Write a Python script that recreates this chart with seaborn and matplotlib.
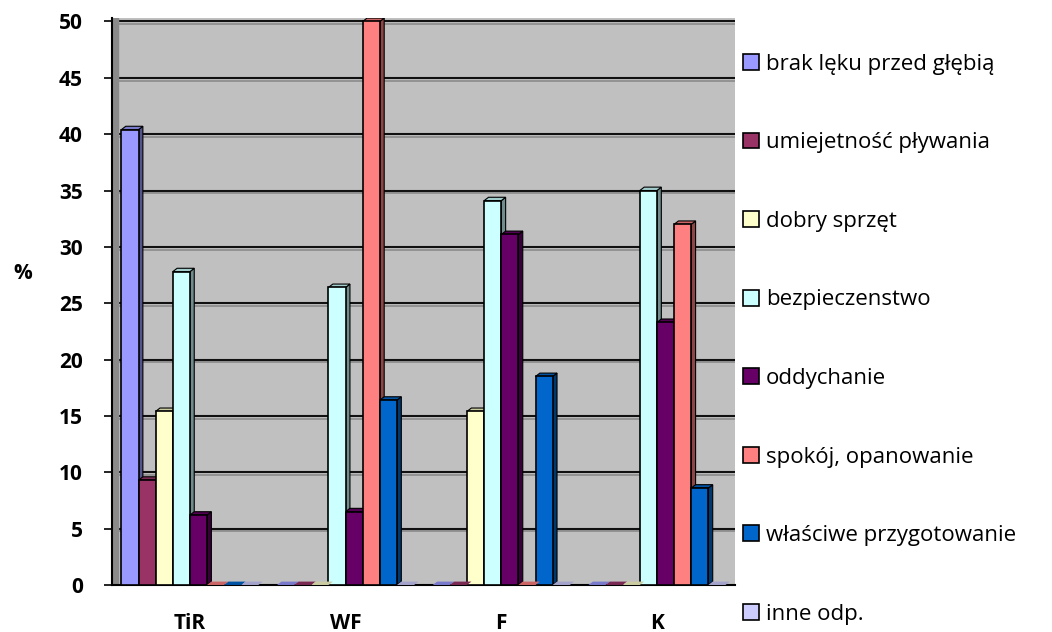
import numpy as np
import pandas as pd
import seaborn as sns
import matplotlib.pyplot as plt
from matplotlib.patches import Polygon
from matplotlib.colors import to_rgb

groups = ["TiR", "WF", "F", "K"]
series = ["brak lęku przed głębią", "umiejetność pływania", "dobry sprzęt",
          "bezpieczenstwo", "oddychanie", "spokój, opanowanie",
          "właściwe przygotowanie", "inne odp."]
colors = ["#9999FF", "#993366", "#FFFFCC", "#CCFFFF",
          "#660066", "#FF8080", "#0066CC", "#CCCCFF"]

brak_leku = [40.4, 0, 0, 0]
umiejetnosc = [9.3, 0, 0, 0]
dobry_sprzet = [15.4, 0, 15.4, 0]
bezpieczenstwo = [27.8, 26.4, 34.1, 35.0]
oddychanie = [6.2, 6.5, 31.1, 23.3]
spokoj = [0, 50.0, 0, 32.0]
przygotowanie = [0, 16.4, 18.5, 8.6]
inne = [0, 0, 0, 0]

values = [brak_leku, umiejetnosc, dobry_sprzet, bezpieczenstwo,
          oddychanie, spokoj, przygotowanie, inne]

df = pd.DataFrame({
    "grupa": np.tile(groups, len(series)),
    "seria": np.repeat(series, len(groups)),
    "proc": np.concatenate(values),
})

sns.set_style("white")
plt.rcParams["font.family"] = ["Open Sans", "DejaVu Sans"]
plt.rcParams["text.color"] = "black"

fig = plt.figure(figsize=(10.52, 6.32), dpi=100)
ax = fig.add_axes([0.1065, 0.0744, 0.592, 0.897])
ax.set_facecolor("#C0C0C0")

sns.barplot(data=df, x="grupa", y="proc", hue="seria", order=groups,
            hue_order=series, palette=colors, width=0.88, saturation=1,
            edgecolor="black", linewidth=1.2, ax=ax, legend=True, zorder=3)

# pseudo-3D side and top faces from the drawn bars
dx, dy = 0.028, 0.3
for p in list(ax.patches):
    h = p.get_height()
    if not np.isfinite(h):
        continue
    x0, w = p.get_x(), p.get_width()
    x1 = x0 + w
    r, g, b = to_rgb(p.get_facecolor())
    dark = (r * 0.55, g * 0.55, b * 0.55)
    mid = (r * 0.8, g * 0.8, b * 0.8)
    if h <= 0:
        # flat bar: only the top face lying on the floor
        ax.add_patch(Polygon([(x0, 0), (x0 + dx, dy), (x1 + dx, dy), (x1, 0)],
                             closed=True, fc=mid, ec="none", zorder=3.1))
        continue
    ax.add_patch(Polygon([(x1, 0), (x1 + dx, dy), (x1 + dx, h + dy), (x1, h)],
                         closed=True, fc=dark, ec="black", lw=0.8, zorder=2.9))
    ax.add_patch(Polygon([(x0, h), (x0 + dx, h + dy), (x1 + dx, h + dy), (x1, h)],
                         closed=True, fc=mid, ec="black", lw=0.8, zorder=2.9))

ax.set_ylim(0, 50.3)
ax.set_xlim(-0.5, 3.5)
ax.set_yticks(np.arange(0, 51, 5))
for yv in np.arange(5, 51, 5):
    ax.axhline(yv, color="#111111", lw=1.5, zorder=1)
    ax.axhline(yv - 0.25, color="#8a8a8a", lw=1.2, zorder=0.9)
ax.axvspan(-0.5, -0.46, color="#8a8a8a", zorder=1)

for s in ["top", "right"]:
    ax.spines[s].set_visible(False)
ax.spines["left"].set_color("black")
ax.spines["left"].set_linewidth(1.5)
ax.spines["bottom"].set_color("black")
ax.spines["bottom"].set_linewidth(1.5)

ax.set_xticks(np.arange(-0.5, 3.6, 1), minor=True)
ax.tick_params(axis="x", which="major", length=0, pad=20, labelcolor="black")
ax.tick_params(axis="x", which="minor", length=6, width=1.2, color="black", direction="out")
ax.tick_params(axis="y", length=6, width=1.2, color="black", direction="out", left=True,
               pad=15, labelcolor="black")
ax.set_xticklabels(groups, fontsize=15, fontweight="bold")
for t in ax.get_yticklabels():
    t.set_fontsize(15)
    t.set_fontweight("bold")
ax.set_xlabel("")
ax.set_ylabel("")
fig.text(0.022, 0.568, "%", fontsize=15, fontweight="bold", ha="center", va="center")

handles, labels = ax.get_legend_handles_labels()
ax.get_legend().remove()
leg = fig.legend(handles, labels, loc="upper left", bbox_to_anchor=(0.698, 0.929),
                 frameon=False, fontsize=16, handlelength=0.72, handleheight=0.72,
                 handletextpad=0.3, labelspacing=2.59, borderaxespad=0)
for t in leg.get_texts():
    t.set_color("black")

fig.savefig("out.png", dpi=100)
